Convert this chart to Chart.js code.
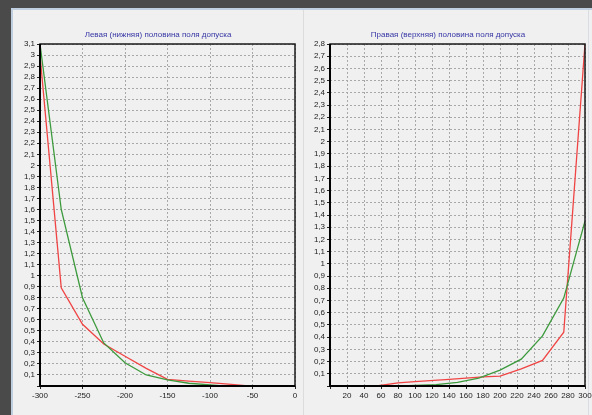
<!DOCTYPE html>
<html>
<head>
<meta charset="utf-8">
<script src="https://cdn.jsdelivr.net/npm/chart.js@4.4.1/dist/chart.umd.min.js"></script>
<style>
  body { margin:0; width:592px; height:415px; background:#4a4a4a; overflow:hidden; position:relative; }
  .frame { position:absolute; left:11px; top:8px; right:0; bottom:0; background:#f0f0f0;
           border-top:2px solid #bfcfe0; border-left:2px solid #bfcfe0; }
  .sep { position:absolute; left:303px; top:10px; width:1px; bottom:0; background:#dcdcdc; }
  .edge { position:absolute; left:588px; top:10px; width:1px; bottom:0; background:#d8dde4; }
  canvas { position:absolute; }
  #left { left:13px; top:10px; }
  #right { left:304px; top:10px; }
</style>
</head>
<body>
<div class="frame"></div>
<div class="sep"></div>
<div class="edge"></div>
<canvas id="left" width="290" height="405"></canvas>
<canvas id="right" width="288" height="405"></canvas>
<script>
// левая половина
const leftRedX   = [-300, -275, -250, -225, -200, -175, -150, -125, -100, -75, -55];
const leftRedY   = [3.0, 0.89, 0.56, 0.38, 0.27, 0.16, 0.06, 0.045, 0.03, 0.015, 0];
const leftGreenX = [-300, -275, -250, -225, -200, -175, -150, -125, -100, -85];
const leftGreenY = [3.1, 1.6, 0.8, 0.39, 0.21, 0.1, 0.055, 0.025, 0.01, 0];

// правая половина
const rightRedX   = [55, 80, 100, 140, 180, 200, 225, 250, 275, 300];
const rightRedY   = [0, 0.025, 0.035, 0.055, 0.075, 0.08, 0.14, 0.21, 0.44, 2.8];
const rightGreenX = [85, 100, 125, 150, 175, 200, 225, 250, 275, 300];
const rightGreenY = [0, 0.005, 0.012, 0.03, 0.065, 0.13, 0.22, 0.41, 0.72, 1.35];

const leftTitle  = 'Левая (нижняя) половина поля допуска';
const rightTitle = 'Правая (верхняя) половина поля допуска';

const font = { family: 'Liberation Sans, Arial, sans-serif', size: 8 };
const titleFont = { family: 'Liberation Sans, Arial, sans-serif', size: 8, weight: 'normal' };

function pts(xs, ys) { return xs.map((x, i) => ({ x: x, y: ys[i] })); }

function yLabel(v) {
  if (Math.abs(v) < 1e-9) return '';
  return String(Math.round(v * 10) / 10).replace('.', ',');
}

const framePlugin = {
  id: 'frame',
  afterDraw(chart) {
    const a = chart.chartArea, c = chart.ctx;
    c.save();
    c.strokeStyle = '#1a1a1a';
    c.lineWidth = 1.5;
    c.strokeRect(a.left, a.top, a.right - a.left, a.bottom - a.top);
    c.lineWidth = 2;
    c.strokeStyle = '#000';
    c.beginPath();
    c.moveTo(a.left, a.top);
    c.lineTo(a.left, a.bottom);
    c.lineTo(a.right, a.bottom);
    c.stroke();
    c.restore();
  }
};

function makeChart(el, title, red, green, xOpt, yMax, padL, padR) {
  return new Chart(el, {
    type: 'line',
    data: {
      datasets: [
        { data: green, borderColor: '#3c9a3c', borderWidth: 1.3, pointRadius: 0, tension: 0 },
        { data: red, borderColor: '#f04444', borderWidth: 1.3, pointRadius: 0, tension: 0 }
      ]
    },
    options: {
      responsive: false,
      animation: false,
      layout: { padding: { left: padL, right: padR, top: 0, bottom: 0 } },
      plugins: {
        legend: { display: false },
        tooltip: { enabled: false },
        title: {
          display: true, text: title, color: '#3636a6',
          font: titleFont, padding: { top: 19.5, bottom: 4.9 }
        }
      },
      scales: {
        x: {
          type: 'linear', min: xOpt.min, max: xOpt.max,
          ticks: { stepSize: xOpt.step, color: '#222', font: font, padding: 2,
                   maxRotation: 0, autoSkip: false, callback: xOpt.label },
          grid: { color: '#a8a8a8', tickColor: '#222', tickLength: 3 },
          border: { display: false, dash: [2, 2] },
          afterFit(s) { s.height = 29; s.paddingLeft = 0; s.paddingRight = 0; }
        },
        y: {
          min: 0, max: yMax,
          ticks: { stepSize: 0.1, color: '#222', font: font, padding: 2,
                   autoSkip: false, callback: yLabel },
          grid: { color: '#a8a8a8', tickColor: '#222', tickLength: 3 },
          border: { display: false, dash: [2, 2] },
          afterFit(s) { s.width = 19; s.paddingTop = 0; s.paddingBottom = 0; }
        }
      }
    },
    plugins: [framePlugin]
  });
}

makeChart(document.getElementById('left'), leftTitle,
  pts(leftRedX, leftRedY), pts(leftGreenX, leftGreenY),
  { min: -300, max: 0, step: 50, label: v => String(v) }, 3.1, 8, 8);

makeChart(document.getElementById('right'), rightTitle,
  pts(rightRedX, rightRedY), pts(rightGreenX, rightGreenY),
  { min: 0, max: 300, step: 20, label: v => (v === 0 ? '' : String(v)) }, 2.8, 7, 7);
</script>
</body>
</html>
